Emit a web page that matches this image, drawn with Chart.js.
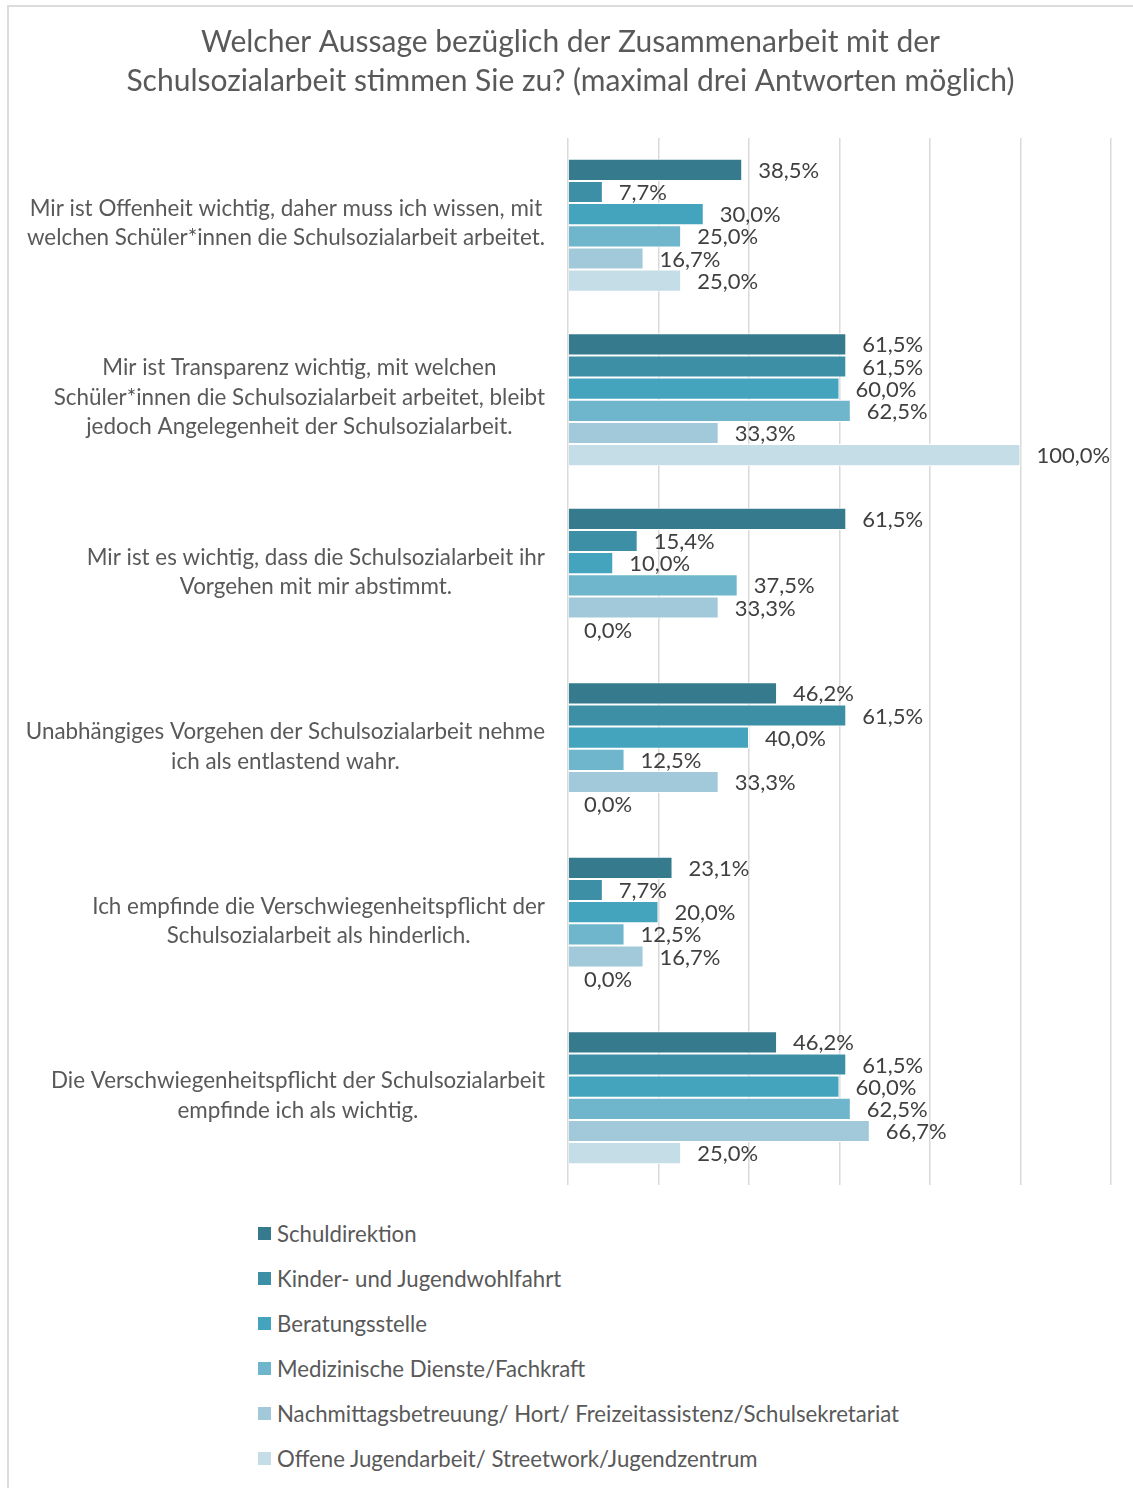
<!DOCTYPE html>
<html>
<head>
<meta charset="utf-8">
<script src="https://cdn.jsdelivr.net/npm/chart.js@4.4.1/dist/chart.umd.min.js"></script>
<style>
    body { margin: 0; background: #fff; font-family: Lato, sans-serif; }
    #frame { position: absolute; left: 7px; top: 5px; width: 1140px; height: 1500px; border: 2px solid #dcdcdc; box-sizing: border-box; }
    #wrap { position: absolute; left: 8px; top: 6px; width: 1125px; height: 1190px; }
    #legend { position: absolute; left: 258px; top: 1211px; }
    .item { display: flex; align-items: center; height: 45px; font-size: 22.2px; color: #595959; }
    .sw { width: 13px; height: 13px; margin-right: 6px; }
</style>
</head>
<body>
<div id="frame"></div>
<div id="wrap"><canvas id="chart"></canvas></div>
<div id="legend"></div>
<script>
// categories (one array of lines per statement)
let categories = [
    ['Mir ist Offenheit wichtig, daher muss ich wissen, mit', 'welchen Schüler*innen die Schulsozialarbeit arbeitet.'],
    ['Mir ist Transparenz wichtig, mit welchen', 'Schüler*innen die Schulsozialarbeit arbeitet, bleibt', 'jedoch Angelegenheit der Schulsozialarbeit.'],
    ['Mir ist es wichtig, dass die Schulsozialarbeit ihr', 'Vorgehen mit mir abstimmt.'],
    ['Unabhängiges Vorgehen der Schulsozialarbeit nehme', 'ich als entlastend wahr.'],
    ['Ich empfinde die Verschwiegenheitspflicht der', 'Schulsozialarbeit als hinderlich.'],
    ['Die Verschwiegenheitspflicht der Schulsozialarbeit', 'empfinde ich als wichtig.']
]

let seriesNames = [
    'Schuldirektion',
    'Kinder- und Jugendwohlfahrt',
    'Beratungsstelle',
    'Medizinische Dienste/Fachkraft',
    'Nachmittagsbetreuung/ Hort/ Freizeitassistenz/Schulsekretariat',
    'Offene Jugendarbeit/ Streetwork/Jugendzentrum'
]

let schuldirektion = [38.5, 61.5, 61.5, 46.2, 23.1, 46.2]
let kinderJugend = [7.7, 61.5, 15.4, 61.5, 7.7, 61.5]
let beratung = [30.0, 60.0, 10.0, 40.0, 20.0, 60.0]
let medizin = [25.0, 62.5, 37.5, 12.5, 12.5, 62.5]
let nachmittag = [16.7, 33.3, 33.3, 33.3, 16.7, 66.7]
let offene = [25.0, 100.0, 0.0, 0.0, 0.0, 25.0]

let xTicks = [0, 20, 40, 60, 80, 100, 120]

let seriesColours = ['#367a8e', '#3d8fa6', '#45a4bd', '#6fb6cc', '#a1c9d9', '#c4dde6']

let seriesValues = [schuldirektion, kinderJugend, beratung, medizin, nachmittag, offene]

let fmt = (v) => v.toFixed(1).replace('.', ',') + '%'

// value labels at the end of each bar
let valueLabels = {
    id: 'valueLabels',
    afterDatasetsDraw(chart) {
        let ctx = chart.ctx
        ctx.save()
        ctx.font = '22px Lato'
        ctx.fillStyle = '#404040'
        ctx.textAlign = 'left'
        ctx.textBaseline = 'middle'
        chart.data.datasets.forEach((ds, i) => {
            chart.getDatasetMeta(i).data.forEach((bar, j) => {
                ctx.fillText(fmt(ds.data[j]), bar.x + 16, bar.y + 1)
            })
        })
        ctx.restore()
    }
}

// category labels: block right aligned, lines centred inside the block
let categoryLabels = {
    id: 'categoryLabels',
    afterDraw(chart) {
        let ctx = chart.ctx
        let yScale = chart.scales.y
        let right = chart.chartArea.left - 23
        let lh = 29.5
        ctx.save()
        ctx.font = '22.4px Lato'
        ctx.fillStyle = '#595959'
        ctx.textAlign = 'center'
        ctx.textBaseline = 'middle'
        categories.forEach((lines, i) => {
            let yc = yScale.getPixelForValue(i)
            let maxW = Math.max(...lines.map(l => ctx.measureText(l).width))
            let cx = right - maxW / 2
            let y0 = yc - (lines.length - 1) * lh / 2 - 2
            lines.forEach((l, k) => ctx.fillText(l, cx, y0 + k * lh))
        })
        ctx.restore()
    }
}

let config = {
    type: 'bar',
    data: {
        labels: categories.map(c => c.join(' ')),
        datasets: seriesNames.map((name, i) => ({
            label: name,
            data: seriesValues[i],
            backgroundColor: seriesColours[i],
            borderColor: '#ffffff',
            borderWidth: 1,
            borderSkipped: 'start',
            barPercentage: 1,
            categoryPercentage: 0.762
        }))
    },
    options: {
        indexAxis: 'y',
        responsive: true,
        maintainAspectRatio: false,
        animation: false,
        layout: { padding: { left: 0, right: 0, bottom: 11 } },
        plugins: {
            legend: { display: false },
            tooltip: { enabled: false },
            title: {
                display: true,
                text: ['Welcher Aussage bezüglich der Zusammenarbeit mit der', 'Schulsozialarbeit stimmen Sie zu? (maximal drei Antworten möglich)'],
                color: '#595959',
                font: { family: 'Lato', size: 30, weight: 'normal', lineHeight: 1.3 },
                padding: { top: 16.5, bottom: 37.5 }
            }
        },
        scales: {
            x: {
                min: xTicks[0],
                max: xTicks[xTicks.length - 1],
                afterBuildTicks: (axis) => { axis.ticks = xTicks.map(v => ({ value: v })) },
                ticks: { display: false },
                border: { display: false },
                grid: { color: '#d9d9d9', lineWidth: 1.5, drawTicks: false }
            },
            y: {
                ticks: { display: false },
                grid: { display: false, drawTicks: false },
                border: { display: false },
                afterFit: (scale) => { scale.width = 560 }
            },
            // empty right axis, only keeps a gap to the right edge
            yRight: {
                type: 'linear',
                position: 'right',
                ticks: { display: false },
                grid: { display: false, drawTicks: false },
                border: { display: false },
                afterFit: (scale) => { scale.width = 22 }
            }
        }
    },
    plugins: [valueLabels, categoryLabels]
}

new Chart(document.getElementById('chart'), config)

// legend
let legend = document.getElementById('legend')
seriesNames.forEach((name, i) => {
    let item = document.createElement('div')
    item.className = 'item'
    let sw = document.createElement('span')
    sw.className = 'sw'
    sw.style.background = seriesColours[i]
    let txt = document.createElement('span')
    txt.textContent = name
    item.appendChild(sw)
    item.appendChild(txt)
    legend.appendChild(item)
})
</script>
</body>
</html>
